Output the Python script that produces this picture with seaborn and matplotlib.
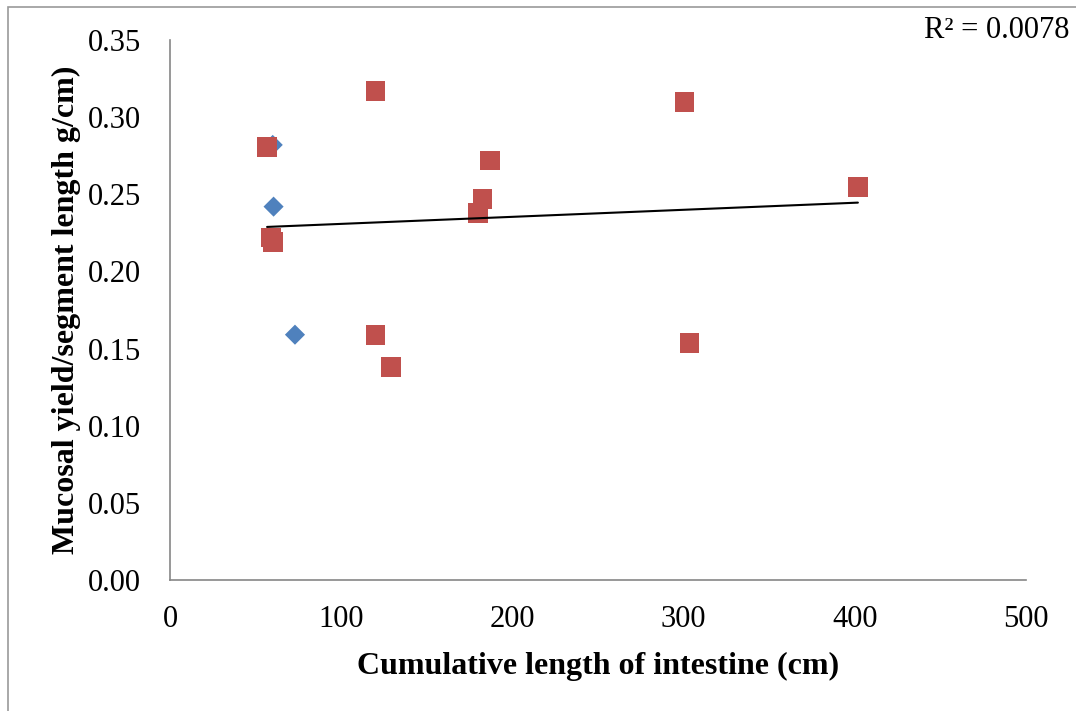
import numpy as np
import pandas as pd
import matplotlib
matplotlib.use("Agg")
import matplotlib.pyplot as plt
import seaborn as sns
from matplotlib.patches import Rectangle

# Data
blue_x = [60.0, 60.5, 73.0]
blue_y = [0.282, 0.242, 0.159]
red_x = [56.7, 59.0, 60.0, 120.0, 120.0, 129.0, 180.0, 182.5, 187.0, 300.6, 303.5, 401.8]
red_y = [0.2806, 0.222, 0.219, 0.317, 0.159, 0.138, 0.238, 0.247, 0.272, 0.310, 0.1536, 0.2547]
x_ticks = [0, 100, 200, 300, 400, 500]
y_ticks = [0.00, 0.05, 0.10, 0.15, 0.20, 0.25, 0.30, 0.35]
r2_label = "R² = 0.0078"

sns.set_theme(style="white")
plt.rcParams["font.family"] = ["Liberation Serif", "DejaVu Serif"]
plt.rcParams["text.color"] = "black"
plt.rcParams["axes.labelcolor"] = "black"

fig = plt.figure(figsize=(10.76, 7.11), dpi=100)
ax = fig.add_axes([170 / 1076, 1 - 580 / 711, (1026 - 170) / 1076, (580 - 40) / 711])

blue_df = pd.DataFrame({"x": blue_x, "y": blue_y})
red_df = pd.DataFrame({"x": red_x, "y": red_y})

sns.scatterplot(data=blue_df, x="x", y="y", marker="D", s=105, color="#4F81BD",
                edgecolor="none", ax=ax, zorder=3)
sns.scatterplot(data=red_df, x="x", y="y", marker="s", s=200, color="#C0504D",
                edgecolor="none", ax=ax, zorder=4)
sns.regplot(data=red_df, x="x", y="y", ci=None, scatter=False, truncate=True,
            line_kws={"color": "black", "linewidth": 1.5, "zorder": 5}, ax=ax)

ax.set_xlim(0, 500)
ax.set_ylim(0, 0.35)
ax.set_xticks(x_ticks)
ax.set_yticks(y_ticks)
ax.set_xticklabels([str(v) for v in x_ticks])
ax.set_yticklabels([f"{v:.2f}" for v in y_ticks])
ax.tick_params(axis="both", length=0, labelsize=22, colors="black")
ax.tick_params(axis="y", pad=21)
ax.tick_params(axis="x", pad=18)

for s in ["top", "right"]:
    ax.spines[s].set_visible(False)
for s in ["left", "bottom"]:
    ax.spines[s].set_color("#868686")
    ax.spines[s].set_linewidth(1.2)

ax.set_xlabel("Cumulative length of intestine (cm)", fontsize=23, fontweight="bold",
              labelpad=13, color="black")
ax.set_ylabel("Mucosal yield/segment length g/cm)", fontsize=23, fontweight="bold",
              labelpad=5, color="black")

fig.text(1070 / 1076, 1 - 31 / 711, r2_label, fontsize=22, ha="right", va="center",
         color="black")

fig.patches.append(Rectangle((8 / 1076, -0.1), 2.0, 1.1 - 7 / 711, transform=fig.transFigure,
                             fill=False, edgecolor="#9a9a9a", linewidth=1.2))

fig.savefig("out.png", dpi=100)
